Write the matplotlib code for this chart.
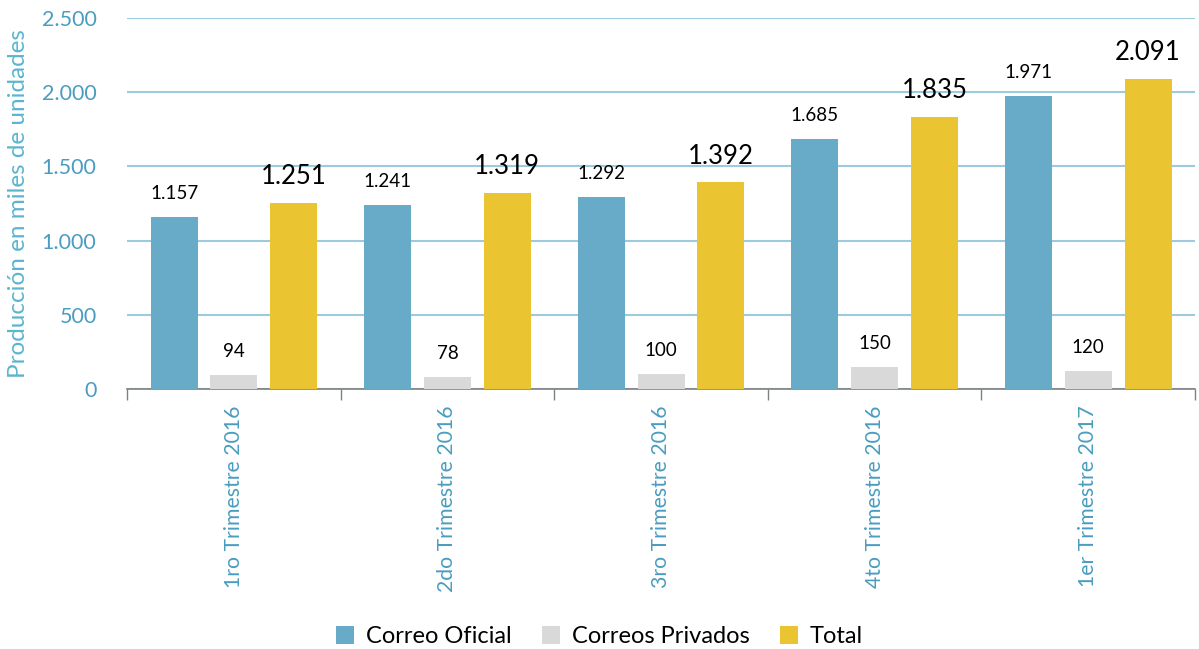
import numpy as np
import matplotlib.pyplot as plt

plt.rcParams['font.family'] = ['Lato', 'DejaVu Sans']

# Datos
trimestres = ['1ro Trimestre 2016', '2do Trimestre 2016', '3ro Trimestre 2016',
              '4to Trimestre 2016', '1er Trimestre 2017']
correo_oficial = [1157, 1241, 1292, 1685, 1971]
correos_privados = [94, 78, 100, 150, 120]
total = [1251, 1319, 1392, 1835, 2091]

def fmt(v):
    return f'{v:,}'.replace(',', '.')

fig = plt.figure(figsize=(11.99, 6.49), dpi=100)
ax = fig.add_axes([0.106, 0.4006, 0.8907, 0.5717])

x = np.arange(len(trimestres))
w = 0.22
off = 0.28
series = [(correo_oficial, -off, '#67ABC9', 'Correo Oficial', 13.5),
          (correos_privados, 0, '#D9D9D9', 'Correos Privados', 13.5),
          (total, off, '#EBC431', 'Total', 18.5)]

for vals, dx, col, lab, fs in series:
    bars = ax.bar(x + dx, vals, w, color=col, label=lab, zorder=3)
    for b, v in zip(bars, vals):
        ax.annotate(fmt(v), (b.get_x() + b.get_width() / 2, v),
                    xytext=(0, 17 if fs < 15 else 19), textcoords='offset points',
                    ha='center', va='center', fontsize=fs, color='black')

ax.set_xlim(-0.5, len(trimestres) - 0.5)
ax.set_ylim(0, 2500)
ax.set_yticks(range(0, 2501, 500))
ax.set_yticklabels([fmt(v) for v in range(0, 2501, 500)], color='#4A9DC0', fontsize=15.5)
ax.yaxis.grid(True, color='#9CCBE0', linewidth=1.5, zorder=0)
ax.tick_params(axis='y', length=0, pad=22)

ax.set_xticks(x)
ax.set_xticklabels(trimestres, rotation=90, color='#4A9DC0', fontsize=15.3)
ax.tick_params(axis='x', length=0, pad=12)
ax.set_xticks(np.arange(-0.5, len(trimestres), 1), minor=True)
ax.tick_params(axis='x', which='minor', length=8, color='#808080', width=1)

for s in ['top', 'right', 'left']:
    ax.spines[s].set_visible(False)
ax.spines['bottom'].set_color('#808080')
ax.spines['bottom'].set_linewidth(1.2)

ax.set_ylabel('Producción en miles de unidades', color='#5BB5CF', fontsize=17.5)
ax.yaxis.set_label_coords(-0.092, 0.5)

fig.legend(loc='lower center', bbox_to_anchor=(0.5, -0.012), ncol=3, frameon=False,
           fontsize=17, handlelength=0.75, handleheight=0.75, handletextpad=0.5,
           columnspacing=1.3, borderaxespad=0.2, borderpad=0.2)

fig.savefig('out.png', dpi=100)
